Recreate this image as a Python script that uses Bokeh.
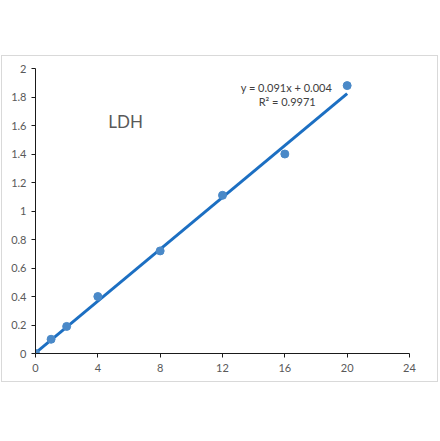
from bokeh.plotting import figure
from bokeh.models import Label, FixedTicker, Spacer
from bokeh.layouts import column, row
from bokeh.embed import file_html
from bokeh.resources import INLINE
import numpy as np

# data
conc = [0, 1, 2, 4, 8, 12, 16, 20]
absorb = [0.0, 0.10, 0.19, 0.40, 0.72, 1.11, 1.40, 1.88]
slope = 0.091
intercept = 0.004
x_ticks = [0, 4, 8, 12, 16, 20, 24]
y_ticks = [0, 0.2, 0.4, 0.6, 0.8, 1.0, 1.2, 1.4, 1.6, 1.8, 2.0]
y_tick_labels = ["0", "0.2", "0.4", "0.6", "0.8", "1", "1.2", "1.4", "1.6", "1.8", "2"]
title_text = "LDH"
eq_text = "y = 0.091x + 0.004"
r2_text = "R² = 0.9971"

p = figure(width=437, height=327, x_range=(0, 24), y_range=(0, 2),
           output_backend="svg", toolbar_location=None,
           min_border_left=33, min_border_right=30, min_border_top=12, min_border_bottom=30)
p.styles = {"border": "1px solid #d9d9d9", "box-sizing": "border-box"}
p.outline_line_color = None
p.xgrid.visible = False
p.ygrid.visible = False

for ax in (p.xaxis[0], p.yaxis[0]):
    ax.axis_line_color = "#1a1a1a"
    ax.major_tick_line_color = "#1a1a1a"
    ax.major_tick_in = 0
    ax.major_tick_out = 4
    ax.minor_tick_line_color = None
    ax.major_label_text_color = "#595959"
    ax.major_label_text_font = "Lato"
    ax.major_label_text_font_size = "11px"
p.xaxis.major_label_standoff = 6
p.yaxis.major_label_standoff = 5

p.xaxis.ticker = FixedTicker(ticks=x_ticks)
p.yaxis.ticker = FixedTicker(ticks=y_ticks)
p.yaxis.major_label_overrides = {t: l for t, l in zip(y_ticks, y_tick_labels)}

xs = np.array([conc[0], conc[-1]])
p.line(xs, slope * xs + intercept, line_color="#1c6fc2", line_width=3)
p.scatter(conc, absorb, size=8, fill_color="#4a89c8", line_color="#4a89c8")

p.add_layout(Label(x=5.78, y=1.63, text=title_text, text_align="center", text_baseline="middle",
                   text_font="Lato", text_font_size="17px", text_color="#595959"))
p.add_layout(Label(x=16.1, y=1.867, text=eq_text, text_align="center", text_baseline="middle",
                   text_font="Lato", text_font_size="11px", text_color="#404040"))
p.add_layout(Label(x=16.15, y=1.768, text=r2_text, text_align="center", text_baseline="middle",
                   text_font="Lato", text_font_size="11px", text_color="#404040"))

layout = column(Spacer(height=55, width=438), row(Spacer(width=1, height=327), p, spacing=0), spacing=0)
open("out.html", "w").write(file_html(layout, INLINE))
